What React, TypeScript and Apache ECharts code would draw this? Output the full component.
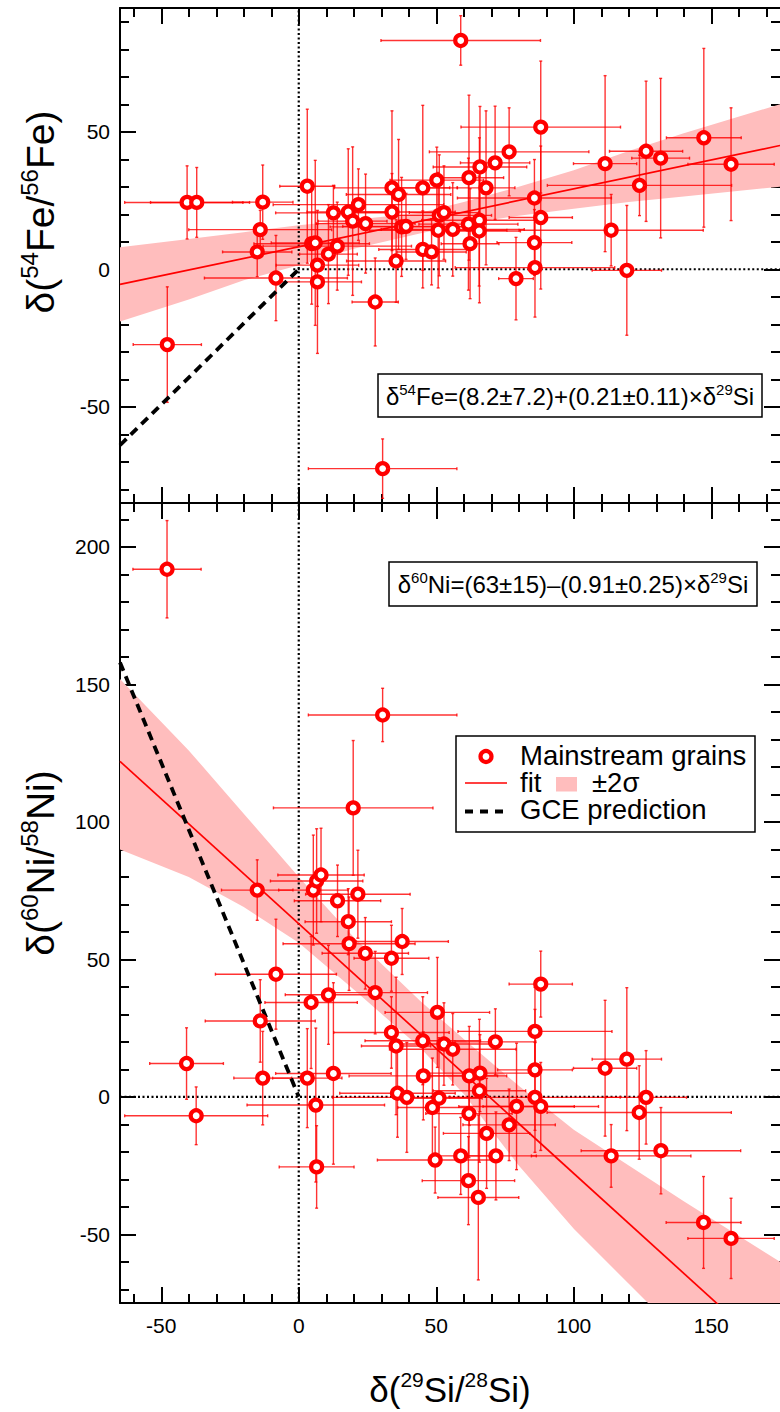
import React, { useEffect, useRef } from "react";
import * as echarts from "echarts";

const FONT = "'Liberation Sans', Arial, Helvetica, sans-serif";
const RED = "#ff0000";
const ERR_COLOR = "rgba(255,0,0,0.8)";
const BAND_COLOR = "#ffbdbd";

// axis ranges
const X_MIN = -65;
const X_MAX = 175;
const FE_MIN = -85;
const FE_MAX = 95;
const NI_MIN = -75;
const NI_MAX = 216;

// tick values
const X_MAJOR = [-50, 0, 50, 100, 150];
const X_MINOR = [-60, -40, -30, -20, -10, 10, 20, 30, 40, 60, 70, 80, 90, 110, 120, 130, 140, 160, 170];
const FE_MAJOR = [-50, 0, 50];
const FE_MINOR = [-80, -70, -60, -40, -30, -20, -10, 10, 20, 30, 40, 60, 70, 80, 90];
const NI_MAJOR = [-50, 0, 50, 100, 150, 200];
const NI_MINOR = [-70, -60, -40, -30, -20, -10, 10, 20, 30, 40, 60, 70, 80, 90, 110, 120, 130, 140, 160, 170, 180, 190, 210];

// top panel: delta29Si, delta54Fe, err x, err y
const FE_X = [-47.8, -40.6, -37.1, -15.1, -14.0, -13.1, -8.3, 3.1, 4.7, 6.0, 6.8, 6.8, 10.8, 12.6, 14.0, 18.0, 19.6, 21.7, 24.3, 27.8, 30.5, 33.9, 36.3, 33.9, 35.4, 37.4, 39.0, 45.1, 45.1, 48.3, 50.2, 51.1, 52.8, 50.7, 56.0, 58.9, 61.9, 65.9, 71.4, 76.5, 68.1, 65.7, 61.7, 65.6, 62.3, 79.0, 85.7, 88.0, 88.0, 85.7, 85.9, 111.4, 113.6, 119.3, 123.9, 126.3, 131.6, 147.3, 157.2];
const FE_Y = [-27.4, 24.3, 24.3, 6.3, 14.4, 24.4, -3.2, 30.2, 9.3, 9.6, 1.5, -4.6, 5.5, 20.5, 8.4, 20.8, 17.5, 23.5, 16.6, -11.9, -72.5, 29.6, 27.2, 20.8, 3.0, 15.4, 15.6, 29.6, 7.2, 6.3, 32.4, 19.6, 20.6, 14.2, 14.5, 83.2, 33.3, 37.2, 38.7, 42.7, 29.6, 17.8, 16.4, 13.9, 9.3, -3.4, 25.9, 51.7, 18.8, 9.7, 0.6, 38.4, 14.2, -0.4, 30.5, 42.9, 40.4, 47.8, 38.2];
const FE_XERR = [12.4, 22.7, 16.8, 12.6, 26, 11, 26, 10, 21, 16, 15, 16, 10.5, 21, 27, 15, 12.5, 31, 18, 8.4, 27, 21, 19, 23, 18, 26, 23, 12.6, 16, 12.6, 17, 19, 12.6, 25, 26, 29, 12.6, 17, 12.6, 29, 10.5, 21, 18, 15, 10.5, 6.3, 28, 29, 11.5, 13.6, 29, 11.5, 33.5, 12.6, 33.5, 13.3, 10.5, 13.6, 15.7];
const FE_YERR = [21, 13.3, 12.7, 9, 7, 13.5, 15.5, 28, 22, 30, 15, 26, 18, 10, 16, 23, 27, 13, 18, 16, 10.8, 28, 20, 14, 15, 18, 12, 30, 14, 12, 12, 22, 17, 21, 17, 9, 30, 22, 20.6, 16, 28, 30, 24, 20, 20, 15, 14, 24, 26, 12, 18, 32, 13, 23.6, 11, 25.5, 29, 32.5, 20.5];

// bottom panel: delta29Si, delta60Ni, err x, err y
const NI_X = [-47.9, 30.5, 19.8, -15.1, 5.3, 6.5, 8.1, 14.1, 21.5, 18.0, 18.3, 24.2, 33.7, 37.6, -8.3, 10.8, 4.5, 27.8, -14.0, -40.8, -37.3, -13.1, 3.1, 12.6, 6.2, 6.5, 33.7, 35.4, 45.1, 45.3, 35.9, 39.3, 48.6, 50.4, 49.6, 88.0, 85.9, 85.9, 85.9, 88.0, 52.8, 56.0, 71.5, 62.0, 65.9, 65.7, 51.0, 61.9, 79.2, 76.5, 68.3, 58.9, 71.7, 61.7, 65.3, 111.4, 119.3, 126.3, 123.8, 113.6, 131.7, 147.2, 157.2];
const NI_Y = [191.9, 138.9, 105.1, 75.2, 75.2, 78.5, 80.7, 71.3, 73.7, 63.7, 55.7, 52.2, 50.4, 56.5, 44.6, 37.1, 34.3, 37.9, 27.6, 12.1, -6.9, 6.8, 6.8, 8.5, -3.0, -25.5, 23.4, 18.5, 20.4, 7.6, 1.3, -0.2, -3.9, 30.7, -23.0, 41.0, 23.8, 9.8, -0.2, -3.5, 19.2, 17.3, 20.0, 7.6, 8.6, 2.2, -0.5, -6.1, -3.5, -10.2, -13.3, -21.5, -21.5, -30.5, -36.6, 10.4, 13.7, -0.2, -5.7, -21.5, -19.6, -45.7, -51.5];
const NI_XERR = [12.4, 27, 29, 13, 12.6, 16.8, 15.7, 15.7, 19, 15.7, 24, 15.7, 13.6, 16.8, 22, 15.7, 16.8, 19, 20, 13.4, 26, 10.5, 12.6, 21, 25, 13.6, 21, 12.6, 21, 27, 21, 27, 12.6, 19, 21, 11.5, 28, 13.6, 31, 21, 19, 23, 14.7, 13.6, 21, 16.8, 15.7, 15.7, 21, 16.8, 15.7, 10.5, 14.7, 16.8, 14.7, 11.5, 12.6, 14.7, 33.5, 29, 29, 13.6, 15.7];
const NI_YERR = [17.7, 9.7, 24.5, 11, 20, 19, 17, 13, 16, 12, 17, 13, 12, 12, 20, 18, 24, 15, 15, 13, 10.5, 17, 18, 33, 28, 15, 13, 25, 16, 16, 16, 20, 18, 20, 12, 12, 16, 22, 20, 16, 15, 13, 12, 18, 14, 26, 22, 16, 23, 13, 20, 14, 16, 16, 30, 24.7, 26, 17, 17, 11.4, 15.7, 16.7, 14.6];

// fits and +-2 sigma bands
const FE_FIT = [[-65, -5.5], [175, 45]];
const NI_FIT = [[-65, 122], [175, -96]];
const FE_BAND_X = [-65, -40, -20, 0, 20, 44, 60, 80, 100, 120, 140, 175];
const FE_BAND_LO = [-19, -11, -4, 1.5, 7.5, 13, 16.5, 19.5, 22, 24.5, 26.5, 30];
const FE_BAND_HI = [8, 11, 13.5, 16, 18, 20.5, 24.5, 30, 36, 43, 49.5, 60];
const NI_BAND_X = [-65, -40, -20, 0, 20, 44, 60, 80, 100, 120, 140, 175];
const NI_BAND_LO = [90, 80, 69, 56, 39, 18, 1, -25, -48, -68, -88, -120];
const NI_BAND_HI = [152, 126, 103, 80, 58, 35, 21, 4, -12, -25, -38, -60];

// GCE predictions
const FE_GCE = [[-65, -64], [0, 0]];
const NI_GCE = [[-65, 158], [0, 0]];

function zip4(a: number[], b: number[], c: number[], d: number[]) {
  return a.map((v, i) => [v, b[i], c[i], d[i]]);
}

function xAx(grid: number, pos: string, ticks: number[], len: number, line: boolean, labels?: number[]) {
  return {
    type: "value", gridIndex: grid, position: pos, min: X_MIN, max: X_MAX,
    axisLine: { show: line, onZero: false, lineStyle: { color: "#000", width: 2 } },
    axisTick: { show: true, inside: true, length: len, customValues: ticks, lineStyle: { color: "#000", width: 2 } },
    axisLabel: labels
      ? { show: true, customValues: labels, color: "#000", fontSize: 21, fontFamily: FONT, margin: 12 }
      : { show: false },
    splitLine: { show: false },
  };
}
function yAx(grid: number, pos: string, min: number, max: number, ticks: number[], len: number, line: boolean, labels?: number[]) {
  return {
    type: "value", gridIndex: grid, position: pos, min, max,
    axisLine: { show: line, onZero: false, lineStyle: { color: "#000", width: 2 } },
    axisTick: { show: true, inside: true, length: len, customValues: ticks, lineStyle: { color: "#000", width: 2 } },
    axisLabel: labels
      ? { show: true, customValues: labels, color: "#000", fontSize: 21, fontFamily: FONT, margin: 10 }
      : { show: false },
    splitLine: { show: false },
  };
}

function errRender(params: any, api: any) {
  const x = api.value(0), y = api.value(1), ex = api.value(2), ey = api.value(3);
  const l = api.coord([x - ex, y]);
  const r = api.coord([x + ex, y]);
  const t = api.coord([x, y + ey]);
  const b = api.coord([x, y - ey]);
  const style = { stroke: ERR_COLOR, lineWidth: 1.4 };
  const c = 1.5;
  return {
    type: "group",
    children: [
      { type: "line", shape: { x1: l[0], y1: l[1], x2: r[0], y2: r[1] }, style },
      { type: "line", shape: { x1: t[0], y1: t[1], x2: b[0], y2: b[1] }, style },
      { type: "line", shape: { x1: l[0], y1: l[1] - c, x2: l[0], y2: l[1] + c }, style },
      { type: "line", shape: { x1: r[0], y1: r[1] - c, x2: r[0], y2: r[1] + c }, style },
      { type: "line", shape: { x1: t[0] - c, y1: t[1], x2: t[0] + c, y2: t[1] }, style },
      { type: "line", shape: { x1: b[0] - c, y1: b[1], x2: b[0] + c, y2: b[1] }, style },
    ],
  };
}

function bandRender(xs: number[], lo: number[], hi: number[]) {
  return (params: any, api: any) => {
    const pts: number[][] = [];
    for (let i = 0; i < xs.length; i++) pts.push(api.coord([xs[i], hi[i]]));
    for (let i = xs.length - 1; i >= 0; i--) pts.push(api.coord([xs[i], lo[i]]));
    return { type: "polygon", shape: { points: pts }, style: { fill: BAND_COLOR } };
  };
}

function panelSeries(ax: number, xs: number[], ys: number[], xe: number[], ye: number[], fit: number[][], gce: number[][],
  bx: number[], blo: number[], bhi: number[], vline: number[][], hline: number[][]) {
  const dotted = { color: "#000", width: 2.2, type: [2, 2.5] };
  return [
    { type: "custom", xAxisIndex: ax, yAxisIndex: ax, renderItem: bandRender(bx, blo, bhi), data: [[bx[0], blo[0]]], clip: true, z: 1, silent: true },
    { type: "line", xAxisIndex: ax, yAxisIndex: ax, data: vline, showSymbol: false, lineStyle: dotted, z: 2 },
    { type: "line", xAxisIndex: ax, yAxisIndex: ax, data: hline, showSymbol: false, lineStyle: dotted, z: 2 },
    { type: "custom", xAxisIndex: ax, yAxisIndex: ax, renderItem: errRender, data: zip4(xs, ys, xe, ye), encode: { x: 0, y: 1 }, clip: true, z: 3 },
    { type: "line", xAxisIndex: ax, yAxisIndex: ax, data: fit, showSymbol: false, clip: true, lineStyle: { color: RED, width: 1.7 }, z: 4 },
    { type: "line", xAxisIndex: ax, yAxisIndex: ax, data: gce, showSymbol: false, clip: true, lineStyle: { color: "#000", width: 3.8, type: [9, 6] }, z: 5 },
    {
      type: "scatter", xAxisIndex: ax, yAxisIndex: ax, data: xs.map((v, i) => [v, ys[i]]), symbol: "circle", symbolSize: 11,
      itemStyle: { color: "#fff", borderColor: RED, borderWidth: 4.2, opacity: 1 }, z: 6,
    },
  ];
}

const YSUP = { fontSize: 24, fontFamily: FONT, fill: "#000", verticalAlign: "top", lineHeight: 24 };
const YMAIN = { fontSize: 39, fontFamily: FONT, fill: "#000", lineHeight: 46 };
const XSUP = { fontSize: 21, fontFamily: FONT, fill: "#000", verticalAlign: "top", lineHeight: 21 };
const XMAIN = { fontSize: 35, fontFamily: FONT, fill: "#000", lineHeight: 41 };

export default function App() {
  const ref = useRef<HTMLDivElement>(null);
  useEffect(() => {
    if (!ref.current) return;
    const chart = echarts.init(ref.current, null, { renderer: "svg" });
    const eqRich = {
      m: { fontSize: 24, fontFamily: FONT, fill: "#000", lineHeight: 28 },
      s: { fontSize: 15, fontFamily: FONT, fill: "#000", verticalAlign: "top", lineHeight: 15 },
    };
    const legRich = { fontSize: 27.5, fontFamily: FONT, fill: "#000", lineHeight: 22 };
    const option: any = {
      animation: false,
      backgroundColor: "#fff",
      grid: [
        { left: 120, top: 8, width: 660, height: 495, outerBoundsMode: "none" },
        { left: 120, top: 503, width: 660, height: 800, outerBoundsMode: "none" },
      ],
      xAxis: [
        xAx(0, "bottom", X_MAJOR, 16, true),
        xAx(0, "bottom", X_MINOR, 9, false),
        xAx(0, "top", X_MAJOR, 16, true),
        xAx(0, "top", X_MINOR, 9, false),
        xAx(1, "bottom", X_MAJOR, 16, true, X_MAJOR),
        xAx(1, "bottom", X_MINOR, 9, false),
        xAx(1, "top", X_MAJOR, 16, true),
        xAx(1, "top", X_MINOR, 9, false),
      ],
      yAxis: [
        yAx(0, "left", FE_MIN, FE_MAX, FE_MAJOR, 16, true, FE_MAJOR),
        yAx(0, "left", FE_MIN, FE_MAX, FE_MINOR, 9, false),
        yAx(0, "right", FE_MIN, FE_MAX, FE_MAJOR, 16, false),
        yAx(0, "right", FE_MIN, FE_MAX, FE_MINOR, 9, false),
        yAx(1, "left", NI_MIN, NI_MAX, NI_MAJOR, 16, true, NI_MAJOR),
        yAx(1, "left", NI_MIN, NI_MAX, NI_MINOR, 9, false),
        yAx(1, "right", NI_MIN, NI_MAX, NI_MAJOR, 16, false),
        yAx(1, "right", NI_MIN, NI_MAX, NI_MINOR, 9, false),
      ],
      series: [
        ...panelSeries(0, FE_X, FE_Y, FE_XERR, FE_YERR, FE_FIT, FE_GCE, FE_BAND_X, FE_BAND_LO, FE_BAND_HI,
          [[0, FE_MIN], [0, FE_MAX]], [[-2, 0], [X_MAX, 0]]),
        ...panelSeries(4, NI_X, NI_Y, NI_XERR, NI_YERR, NI_FIT, NI_GCE, NI_BAND_X, NI_BAND_LO, NI_BAND_HI,
          [[0, NI_MIN], [0, NI_MAX]], [[X_MIN, 0], [X_MAX, 0]]),
      ],
      graphic: [
        // axis titles
        {
          type: "text", x: 40, y: 212, rotation: Math.PI / 2, z: 100,
          style: { text: "{m|δ(}{s|54}{m|Fe/}{s|56}{m|Fe)}", rich: { m: YMAIN, s: YSUP }, align: "center", verticalAlign: "middle" },
        },
        {
          type: "text", x: 40, y: 863, rotation: Math.PI / 2, z: 100,
          style: { text: "{m|δ(}{s|60}{m|Ni/}{s|58}{m|Ni)}", rich: { m: YMAIN, s: YSUP }, align: "center", verticalAlign: "middle" },
        },
        {
          type: "text", x: 450, y: 1389, z: 100,
          style: { text: "{m|δ(}{s|29}{m|Si/}{s|28}{m|Si)}", rich: { m: XMAIN, s: XSUP }, align: "center", verticalAlign: "middle" },
        },
        // equation boxes
        { type: "rect", shape: { x: 378, y: 374, width: 384, height: 43 }, style: { fill: "#fff", stroke: "#000", lineWidth: 1.5 }, z: 100 },
        {
          type: "text", x: 570, y: 396, z: 101,
          style: { text: "{m|δ}{s|54}{m|Fe=(8.2±7.2)+(0.21±0.11)×δ}{s|29}{m|Si}", rich: eqRich, align: "center", verticalAlign: "middle" },
        },
        { type: "rect", shape: { x: 389, y: 562, width: 368, height: 44 }, style: { fill: "#fff", stroke: "#000", lineWidth: 1.5 }, z: 100 },
        {
          type: "text", x: 573, y: 584, z: 101,
          style: { text: "{m|δ}{s|60}{m|Ni=(63±15)–(0.91±0.25)×δ}{s|29}{m|Si}", rich: eqRich, align: "center", verticalAlign: "middle" },
        },
        // legend
        { type: "rect", shape: { x: 456, y: 736, width: 299, height: 96 }, style: { fill: "#fff", stroke: "#000", lineWidth: 1.5 }, z: 100 },
        { type: "circle", shape: { cx: 486, cy: 756.5, r: 5.5 }, style: { fill: "#fff", stroke: RED, lineWidth: 4.2 }, z: 101 },
        { type: "text", x: 520, y: 755, z: 101, style: { text: "Mainstream grains", ...legRich, verticalAlign: "middle" } },
        { type: "line", shape: { x1: 465, y1: 783, x2: 507, y2: 783 }, style: { stroke: RED, lineWidth: 1.7 }, z: 101 },
        { type: "text", x: 520, y: 782, z: 101, style: { text: "fit", ...legRich, verticalAlign: "middle" } },
        { type: "rect", shape: { x: 556, y: 777, width: 21, height: 14.5 }, style: { fill: BAND_COLOR }, z: 101 },
        { type: "text", x: 592, y: 782, z: 101, style: { text: "±2σ", ...legRich, verticalAlign: "middle" } },
        { type: "line", shape: { x1: 465, y1: 811.5, x2: 507, y2: 811.5 }, style: { stroke: "#000", lineWidth: 3.8, lineDash: [8, 7] }, z: 101 },
        { type: "text", x: 520, y: 809, z: 101, style: { text: "GCE prediction", ...legRich, verticalAlign: "middle" } },
      ],
    };
    chart.setOption(option);
    return () => chart.dispose();
  }, []);
  return <div ref={ref} style={{ position: "absolute", left: 0, top: 0, width: 780, height: 1412, background: "#fff" }} />;
}
